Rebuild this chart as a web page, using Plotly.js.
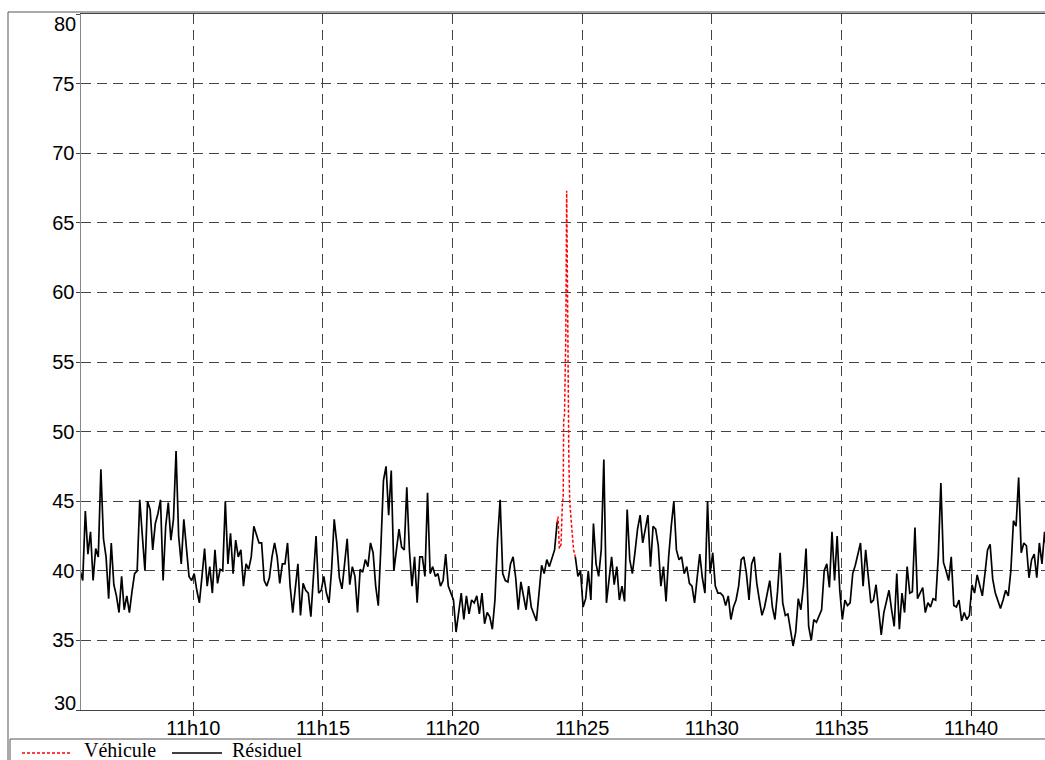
<!DOCTYPE html>
<html>
<head>
<meta charset="utf-8">
<script src="https://cdn.plot.ly/plotly-3.0.1.min.js"></script>
<style>
html,body{margin:0;padding:0;background:#fff;}
#chart{width:1045px;height:760px;}
</style>
</head>
<body>
<div id="chart"></div>
<script>
// ---- Data ----
const dayPrefix = '2020-01-01 ';
const residuelStart = '11:05:38';   // time of first "Résiduel" sample
const residuelStepSeconds = 6;      // sampling step of the "Résiduel" series

// Résiduel, 11:05:38 -> 11:15:14
const residuelA = [40.0,39.3,44.3,41.2,42.8,39.3,41.6,41.0,47.3,42.3,
41.0,38.0,42.0,39.0,38.2,37.0,39.6,37.2,38.2,37.0,
38.5,39.8,40.0,45.1,42.5,40.0,45.0,44.4,41.5,43.4,
44.1,45.1,39.3,43.2,44.9,42.2,43.7,48.6,42.5,40.5,
43.7,41.5,39.6,39.3,39.8,38.6,37.7,39.6,41.6,38.9,
40.3,38.4,41.5,39.1,40.1,40.0,45.0,40.5,42.7,39.8,
42.2,41.0,41.5,38.9,40.5,40.1,41.0,43.2,42.5,42.0,
42.0,39.3,38.9,39.5,41.0,42.0,41.0,39.1,40.5,40.5,
42.0,38.9,37.0,38.6,40.5,36.8,39.1,38.6,38.4,36.7,
40.0,42.5,38.4,38.6,39.6,38.4,37.7];

// Résiduel, 11:15:20 -> 11:24:02
const residuelB = [40.1,43.7,42.0,39.5,38.7,40.5,42.3,39.0,40.3,39.6,
37.0,40.1,39.9,40.8,40.3,42.0,41.3,38.9,37.5,41.7,
46.5,47.5,44.0,47.2,40.0,41.5,43.0,41.7,41.5,46.0,
41.5,38.9,41.0,37.7,41.0,41.0,39.6,45.6,39.8,40.3,
39.6,39.8,38.9,39.3,41.2,38.9,38.4,37.9,35.6,37.2,
38.4,36.5,38.2,36.9,37.9,37.7,38.2,36.9,38.4,36.2,
37.0,36.7,35.8,37.9,42.2,45.1,39.8,39.3,39.2,40.5,
41.0,39.5,37.2,39.2,38.2,37.2,38.9,37.4,36.9,36.4,
38.4,40.4,39.8,40.8,40.3,41.0,41.5,43.5];

// samples of Résiduel missing while the vehicle passes (11:24:08 -> 11:24:38)
const residuelGapCount = 6;

// Résiduel, 11:24:44 -> 11:34:08
const residuelC = [41.0,39.6,40.0,37.4,38.0,40.0,37.9,43.4,40.5,39.6,
41.5,48.0,37.7,39.3,41.0,39.0,40.3,37.9,38.9,37.8,
44.4,40.8,39.8,41.3,43.0,44.0,42.0,43.0,44.0,40.3,
43.2,43.0,41.8,38.9,40.3,37.8,41.0,43.2,45.0,41.5,
40.8,41.0,39.8,40.3,39.1,38.9,37.7,39.5,41.2,39.5,
38.4,45.0,39.8,41.3,38.9,38.4,38.4,38.2,37.5,38.2,
36.5,37.4,37.9,38.9,40.8,41.0,39.8,37.9,40.5,41.0,
39.1,37.9,36.8,37.4,38.4,39.3,37.4,36.5,38.5,41.3,
37.7,36.8,36.9,35.6,34.6,35.6,38.0,37.2,38.9,41.6,
36.0,35.0,36.5,36.3,36.7];

// Résiduel, 11:34:14 -> 11:42:56
const residuelD = [37.2,40.0,40.5,38.8,42.8,39.3,42.5,38.6,36.5,37.9,
37.5,37.7,39.8,40.4,41.2,42.0,38.9,41.5,39.6,37.7,
37.9,39.0,37.2,35.4,37.0,37.7,38.6,37.2,36.0,39.8,
35.8,38.4,37.0,40.3,38.4,38.5,43.1,38.0,38.4,38.8,
37.0,37.7,37.4,38.0,37.9,41.0,46.3,40.6,40.0,39.3,
41.0,37.5,37.4,37.9,36.4,37.0,36.5,36.8,39.0,38.4,
39.7,38.9,38.2,39.8,41.5,41.9,39.4,38.4,37.9,37.3,
37.9,38.6,38.2,40.0,43.6,43.2,46.7,41.3,42.0,41.8,
39.5,40.8,41.2,39.5,42.0,40.5,42.8,41.0];

// Véhicule (passing vehicle peak)
const vehiculeTimes = ['11:24:02','11:24:04','11:24:07','11:24:11','11:24:14','11:24:16',
  '11:24:17','11:24:19','11:24:22','11:24:24','11:24:26','11:24:27','11:24:29',
  '11:24:31','11:24:33','11:24:36','11:24:40','11:24:44'];
const vehiculeValues = [43.5,43.9,41.6,41.9,44.8,45.3,50.8,51.2,57.0,67.3,60.0,52.0,48.0,
  45.0,44.0,43.0,41.5,41.0];

// Axis / labels
const seriesNames = ['Véhicule', 'Résiduel'];
const xRange = ['11:05:40', '11:42:51'];
const yRange = [30, 80];
const yTickValues = [30, 35, 40, 45, 50, 55, 60, 65, 70, 75, 80];
const xTickStart = '11:10:00';
const xTickStepMinutes = 5;

// ---- Build ----
function toSec(hms){const p=hms.split(':').map(Number);return p[0]*3600+p[1]*60+p[2];}
function pad(n){return (n<10?'0':'')+n;}
function fromSec(s){const h=Math.floor(s/3600),m=Math.floor((s%3600)/60),ss=s%60;return dayPrefix+pad(h)+':'+pad(m)+':'+pad(ss);}

const residuelY = [].concat(residuelA, residuelB, new Array(residuelGapCount).fill(null), residuelC, residuelD);
const t0 = toSec(residuelStart);
const residuelX = residuelY.map((_, i) => fromSec(t0 + i*residuelStepSeconds));
const vehiculeX = vehiculeTimes.map(t => dayPrefix + t);

// pixel helpers for decorations (plot area: left 81, right 1045, top 14, bottom 710)
const L=81, R=1045, T=14, B=710;
const px = v => (v-L)/(R-L);
const py = v => (B-v)/(B-T);

const tickFont = {family:'Liberation Sans, Arial, sans-serif', size:20, color:'#000'};
const legendFont = {family:'Liberation Serif, Times New Roman, serif', size:20, color:'#000'};

const traces = [
  {x: residuelX, y: residuelY, type:'scatter', mode:'lines', name: seriesNames[1],
   line:{color:'#000', width:1.7}, connectgaps:false, showlegend:false, hoverinfo:'skip'},
  {x: vehiculeX, y: vehiculeValues, type:'scatter', mode:'lines', name: seriesNames[0],
   line:{color:'#ff0000', width:1.5, dash:'3px,2px'}, showlegend:false, hoverinfo:'skip'}
];

// end labels (30 and 80) are drawn inside the frame as in the reference
const yTickText = yTickValues.map((v, k) => (k === 0 || k === yTickValues.length-1) ? '' : String(v));
const firstY = yTickValues[0], lastY = yTickValues[yTickValues.length-1];

const frameColor = '#555';
const layout = {
  width:1045, height:760,
  margin:{l:L, r:0, t:T, b:760-B, pad:0},
  paper_bgcolor:'#fff', plot_bgcolor:'#fff',
  showlegend:false,
  xaxis:{
    type:'date', range: xRange.map(t=>dayPrefix+t),
    tick0: dayPrefix + xTickStart, dtick: xTickStepMinutes*60000,
    tickformat:'%Hh%M', ticks:'outside', ticklen:5, tickcolor:'#333', tickwidth:1,
    ticklabelstandoff:-5,
    showgrid:true, gridcolor:'#444', gridwidth:1, griddash:'10px,6px',
    showline:true, linecolor:'#444', linewidth:1, mirror:true,
    zeroline:false, tickfont: tickFont, fixedrange:true
  },
  yaxis:{
    range: yRange, tickmode:'array', tickvals: yTickValues, ticktext: yTickText,
    ticks:'outside', ticklen:4, tickcolor:'#444', tickwidth:1,
    ticklabelstandoff:-3,
    showgrid:true, gridcolor:'#444', gridwidth:1, griddash:'10px,6px',
    showline:true, linecolor:'#888', linewidth:1.5,
    zeroline:false, tickfont: tickFont, fixedrange:true
  },
  shapes:[
    // outer frame
    {type:'rect', xref:'paper', yref:'paper', x0:px(8), x1:px(1060), y0:py(780), y1:py(12),
     line:{color:frameColor, width:1}, fillcolor:'rgba(0,0,0,0)', layer:'above'},
    // legend box
    {type:'rect', xref:'paper', yref:'paper', x0:px(10), x1:px(1060), y0:py(780), y1:py(739),
     line:{color:frameColor, width:1}, fillcolor:'rgba(0,0,0,0)', layer:'above'},
    // legend symbols
    {type:'line', xref:'paper', yref:'paper', x0:px(22), x1:px(72), y0:py(753), y1:py(753),
     line:{color:'#ff0000', width:1.5, dash:'3px,2px'}},
    {type:'line', xref:'paper', yref:'paper', x0:px(172), x1:px(222), y0:py(753), y1:py(753),
     line:{color:'#000', width:1.5}}
  ],
  annotations:[
    {xref:'paper', yref:'paper', x:px(83), y:py(750), xanchor:'left', yanchor:'middle',
     text: seriesNames[0], showarrow:false, font: legendFont, borderpad:0},
    {xref:'paper', yref:'paper', x:px(231), y:py(750), xanchor:'left', yanchor:'middle',
     text: seriesNames[1], showarrow:false, font: legendFont, borderpad:0},
    {xref:'paper', yref:'y', x:px(77), y:lastY - 0.72, xanchor:'right', yanchor:'middle',
     text: String(lastY), showarrow:false, font: tickFont, borderpad:0},
    {xref:'paper', yref:'y', x:px(77), y:firstY + 0.5, xanchor:'right', yanchor:'middle',
     text: String(firstY), showarrow:false, font: tickFont, borderpad:0}
  ]
};

Plotly.newPlot('chart', traces, layout, {displayModeBar:false, staticPlot:true});
</script>
</body>
</html>
